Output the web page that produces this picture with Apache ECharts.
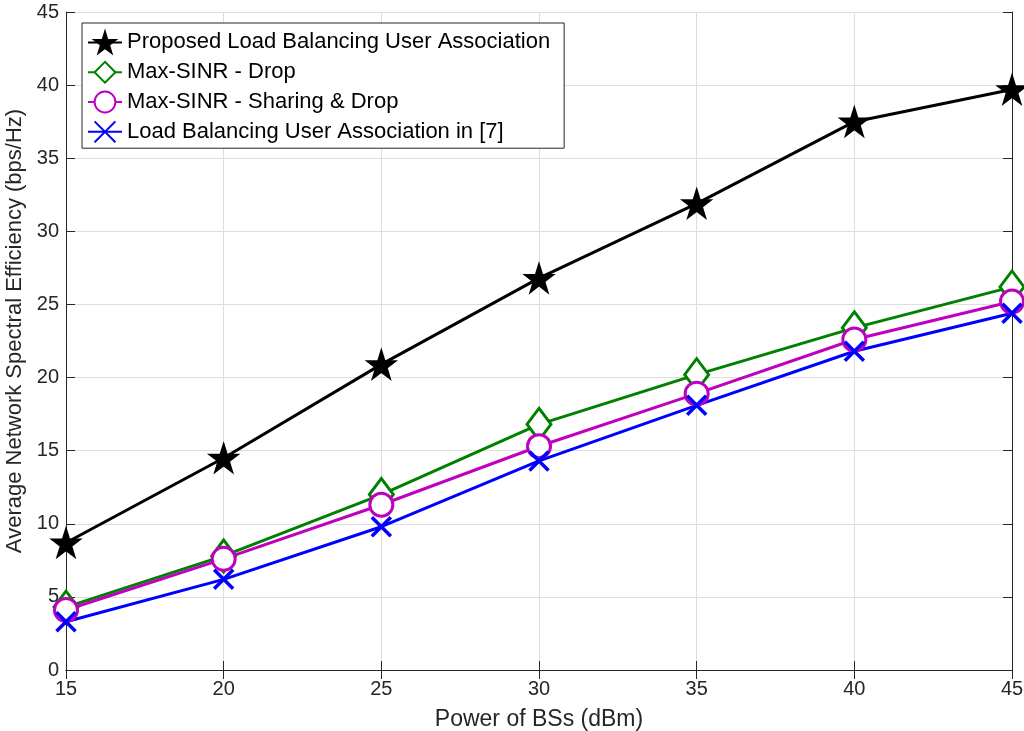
<!DOCTYPE html>
<html><head><meta charset="utf-8">
<script src="https://cdn.jsdelivr.net/npm/echarts@6/dist/echarts.min.js"></script>
<style>html,body{margin:0;padding:0;background:#fff}#c{width:1024px;height:731px}</style>
</head><body><div id="c"></div>
<script>
const powers = [15, 20, 25, 30, 35, 40, 45];
const proposed = [8.7, 14.5, 20.9, 26.8, 31.9, 37.5, 39.7];
const maxSinrDrop = [4.3, 7.8, 12.0, 16.8, 20.2, 23.4, 26.2];
const maxSinrShare = [4.1, 7.6, 11.3, 15.3, 18.9, 22.6, 25.2];
const lbRef7 = [3.3, 6.2, 9.8, 14.3, 18.1, 21.8, 24.4];
const names = ['Proposed Load Balancing User Association','Max-SINR - Drop','Max-SINR - Sharing & Drop','Load Balancing User Association in [7]'];

const star = 'path://M50,0 L61.2,34.5 L97.6,34.5 L68.2,55.9 L79.4,90.5 L50,69.1 L20.6,90.5 L31.8,55.9 L2.4,34.5 L38.8,34.5 Z';
const cross = 'path://M0,0 L10,10 M10,0 L0,10';
const font = 'Liberation Sans, Arial, sans-serif';
function mk(data){ return powers.map((p,i)=>[p,data[i]]); }
function series(name, data, color, symbol, size, fill, bw){
  return {
    name, type:'line', data: mk(data), symbol, symbolSize:size,
    lineStyle:{color, width:3}, itemStyle:{color:fill, borderColor:color, borderWidth:bw},
    emphasis:{disabled:true}, z: 3
  };
}
const chart = echarts.init(document.getElementById('c'), null, {renderer:'canvas'});
const axisLine = {show:true, lineStyle:{color:'#262626', width:1}};
const tick = {show:true, inside:true, length:9, lineStyle:{color:'#262626'}};
chart.setOption({
  animation:false,
  backgroundColor:'#fff',
  grid:{left:66, right:12, top:12, bottom:61, show:false, containLabel:false, outerBoundsMode:'none'},
  legend:{
    data: names, orient:'vertical', left:82, top:23,
    backgroundColor:'#fff', borderColor:'#262626', borderWidth:1,
    padding:[8,14,5,5], itemWidth:34, itemHeight:26, itemGap:7,
    textStyle:{fontFamily:font, fontSize:22, color:'#000'}
  },
  xAxis:[{
    type:'value', min:15, max:45, interval:5,
    name:'Power of BSs (dBm)', nameLocation:'middle', nameGap:38,
    nameTextStyle:{fontFamily:font, fontSize:23, color:'#262626'},
    axisLine, axisTick:tick,
    axisLabel:{fontFamily:font, fontSize:20, color:'#262626', margin:9},
    splitLine:{show:true, lineStyle:{color:'#dedede', width:1}}
  },{
    type:'value', position:'top', min:15, max:45, interval:5,
    axisLine, axisTick:tick, axisLabel:{show:false}, splitLine:{show:false}
  }],
  yAxis:[{
    type:'value', min:0, max:45, interval:5,
    name:'Average Network Spectral Efficiency (bps/Hz)', nameLocation:'middle', nameGap:35,
    nameTextStyle:{fontFamily:font, fontSize:22, color:'#262626', padding:[0,0,0,20]},
    axisLine, axisTick:tick,
    axisLabel:{fontFamily:font, fontSize:20, color:'#262626', margin:7},
    splitLine:{show:true, lineStyle:{color:'#dedede', width:1}}
  },{
    type:'value', position:'right', min:0, max:45, interval:5,
    axisLine, axisTick:tick, axisLabel:{show:false}, splitLine:{show:false}
  }],
  series:[
    series(names[0], proposed, '#000000', star, 29, '#000000', 1.5),
    series(names[1], maxSinrDrop, '#008000', 'diamond', [24,32], '#ffffff', 3),
    series(names[2], maxSinrShare, '#bf00bf', 'circle', 23, '#ffffff', 3),
    series(names[3], lbRef7, '#0000ff', cross, 19, '#0000ff', 3.5)
  ]
});
</script></body></html>
